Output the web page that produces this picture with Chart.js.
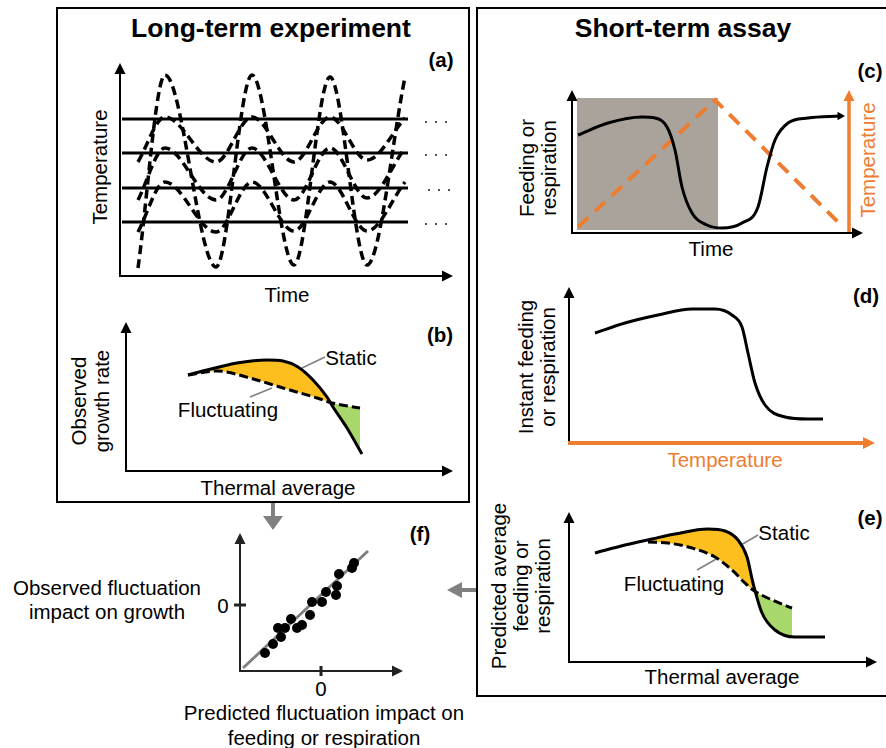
<!DOCTYPE html>
<html>
<head>
<meta charset="utf-8">
<script src="https://cdn.jsdelivr.net/npm/chart.js@4.4.1/dist/chart.umd.min.js"></script>
<style>
  body { margin: 0; background: #fff; }
  #fig { position: relative; width: 886px; height: 748px; overflow: hidden; font-family: "Liberation Sans", Arial, sans-serif; color: #000; }
  #fig canvas { position: absolute; }
  .lbl { position: absolute; transform: translate(-50%, -50%); white-space: nowrap; text-align: center; font-size: 20.5px; line-height: 22px; }
  .rot { transform: translate(-50%, -50%) rotate(-90deg); }
  .title { font-weight: bold; font-size: 26.5px; line-height: 28px; }
  .tag { font-weight: bold; }
  .orange { color: #ed7d31; }
</style>
</head>
<body>
<div id="fig">
  <svg width="886" height="748" style="position:absolute;left:0;top:0">
    <rect x="57" y="8" width="412" height="494" fill="none" stroke="#000" stroke-width="2"/>
    <rect x="477" y="8" width="420" height="688" fill="none" stroke="#000" stroke-width="2"/>
    <!-- grey connectors -->
    <rect x="271" y="503" width="4" height="14" fill="#808080"/>
    <polygon points="263,516 283,516 273,530" fill="#808080"/>
    <rect x="461" y="588" width="15" height="4" fill="#808080"/>
    <polygon points="462,582 462,598 447,590" fill="#808080"/>
  </svg>

  <div class="lbl title" style="left:271px;top:28px">Long-term experiment</div>
  <div class="lbl title" style="left:683px;top:28px">Short-term assay</div>

  <div class="lbl tag" style="left:441px;top:60px">(a)</div>
  <div class="lbl tag" style="left:440px;top:335px">(b)</div>
  <div class="lbl tag" style="left:870px;top:71px">(c)</div>
  <div class="lbl tag" style="left:866px;top:296px">(d)</div>
  <div class="lbl tag" style="left:870px;top:518px">(e)</div>
  <div class="lbl tag" style="left:420px;top:534px">(f)</div>

  <div class="lbl rot" style="left:100px;top:167px">Temperature</div>
  <div class="lbl" style="left:287px;top:295px">Time</div>

  <div class="lbl rot" style="left:90px;top:401px;line-height:23px">Observed<br>growth rate</div>
  <div class="lbl" style="left:351px;top:358px">Static</div>
  <div class="lbl" style="left:228px;top:410px">Fluctuating</div>
  <div class="lbl" style="left:278px;top:488px">Thermal average</div>

  <div class="lbl rot" style="left:538px;top:168px">Feeding or<br>respiration</div>
  <div class="lbl rot orange" style="left:868px;top:160px">Temperature</div>
  <div class="lbl" style="left:711px;top:249px">Time</div>

  <div class="lbl rot" style="left:537px;top:367px">Instant feeding<br>or respiration</div>
  <div class="lbl orange" style="left:725px;top:460px">Temperature</div>

  <div class="lbl rot" style="left:521px;top:586px">Predicted average<br>feeding or<br>respiration</div>
  <div class="lbl" style="left:784px;top:533px">Static</div>
  <div class="lbl" style="left:674px;top:584px">Fluctuating</div>
  <div class="lbl" style="left:722px;top:677px">Thermal average</div>

  <div class="lbl" style="left:107px;top:600px;line-height:24px">Observed fluctuation<br>impact on growth</div>
  <div class="lbl" style="left:223px;top:606px">0</div>
  <div class="lbl" style="left:321px;top:689px">0</div>
  <div class="lbl" style="left:324px;top:725px;line-height:25px">Predicted fluctuation impact on<br>feeding or respiration</div>
</div>

<script>
// (a) long-term regimes: constant levels and fluctuating sine-like regimes
const waveTimes = [18, 45, 96, 132, 174, 210, 247, 285];
const waveWide  = [8, 201, 9, 201, 11, 199, 11, 199];
const waveHigh  = [114, 159, 114, 159, 114, 159, 116, 158];
const waveMid   = [76, 128, 76, 128, 76, 128, 78, 128];
const waveLow   = [44, 94, 44, 94, 45, 94, 45, 94];
const staticLevels = [157, 123, 88, 54];
const staticSpan = [2, 288];
const moreDots = [[306, 154], [316, 154], [326, 154], [306, 121], [316, 121], [326, 121],
                  [309, 86], [319, 86], [329, 86], [306, 52], [316, 52], [326, 52]];

// (b) observed growth vs thermal average
const bStatic = [[62, 96], [81, 101], [111, 108], [141, 111], [157, 110], [172, 104], [187, 91], [201, 74], [207, 64], [221, 43], [236, 17]];
const bFluct = [[62, 96], [91, 100], [124, 93], [157, 83], [191, 73], [206, 68], [234, 63]];
const bStaticLeader = [[176, 103], [199, 114]];
const bFluctLeader = [[124, 74], [146, 83]];

// (c) ramp assay over time
const cRate = [[6, 98], [36, 110], [70, 116], [83, 115], [95, 106], [103, 83], [110, 46], [120, 20], [135, 8], [150, 5], [170, 10], [186, 26], [195, 66], [203, 93], [216, 110], [236, 115], [268, 117]];
const cTemp = [[6, 6], [143, 133], [271, 6]];
const cHeatBand = [[5, 135], [146, 135]];
const cHeatBandBase = 3;
const cTempAxis = 277;

// (d) instant rate vs temperature
const dRate = [[26, 110], [56, 120], [89, 128], [123, 134], [146, 134], [163, 128], [173, 116], [179, 90], [186, 60], [196, 38], [216, 26], [239, 24], [254, 24]];

// (e) predicted average rate vs thermal average
const eStatic = [[26, 109], [56, 117], [83, 123], [106, 128], [139, 133], [156, 131], [169, 122], [178, 105], [184, 79], [193, 49], [206, 32], [226, 25], [256, 25]];
const eFluct = [[79, 120], [99, 119], [123, 114], [146, 105], [163, 92], [176, 79], [184, 72], [203, 62], [223, 54]];
const eStaticLeader = [[172, 117], [189, 127]];
const eFluctLeader = [[128, 92], [149, 104]];

// (f) observed vs predicted fluctuation impact
const fPredicted = [25, 33, 41, 38, 45, 51, 57, 62, 70, 72, 82, 86, 96, 97, 99, 112, 114];
const fObserved  = [18, 27, 34, 43, 43, 52, 43, 46, 56, 69, 69, 79, 76, 85, 97, 103, 108];
const fFit = [[3, 3], [128, 120]];
const fZeroX = 81, fZeroY = 66;

const ORANGE = '#ed7d31', FILL_ORANGE = '#fdbf1d', FILL_GREEN = '#a8d86c', GREY = '#808080';

const pts = arr => arr.map(([x, y]) => ({ x, y }));
const zip = (xs, ys) => xs.map((x, i) => ({ x, y: ys[i] }));

function curve(data, extra) {
    return Object.assign({ data: data, borderColor: '#000', borderWidth: 3, fill: false,
        cubicInterpolationMode: 'monotone', clip: false }, extra);
}
function straight(data, extra) {
    return Object.assign({ data: data, borderColor: '#000', borderWidth: 3, fill: false, tension: 0, clip: false }, extra);
}

// axes with arrow heads, optional extra vertical axis and tick marks
const axisArrows = {
    id: 'axisArrows',
    afterDraw(chart, args, o) {
        const { ctx, chartArea: a, scales } = chart;
        const seg = (x1, y1, x2, y2, color, w) => {
            ctx.strokeStyle = color; ctx.lineWidth = w;
            ctx.beginPath(); ctx.moveTo(x1, y1); ctx.lineTo(x2, y2); ctx.stroke();
        };
        const tri = (p, color) => {
            ctx.fillStyle = color;
            ctx.beginPath(); ctx.moveTo(p[0][0], p[0][1]); ctx.lineTo(p[1][0], p[1][1]); ctx.lineTo(p[2][0], p[2][1]);
            ctx.closePath(); ctx.fill();
        };
        const yc = o.yColor || '#000', xc = o.xColor || '#000';
        const yw = o.yWidth || 2, xw = o.xWidth || 2;
        const hl = 11, hw = 5.5;
        const xhl = o.xHead || hl, xhw = o.xHeadW || hw;
        ctx.save();
        seg(a.left, a.bottom, a.left, a.top + hl - 1, yc, yw);
        tri([[a.left, a.top], [a.left - hw, a.top + hl], [a.left + hw, a.top + hl]], yc);
        if (o.vertical) {
            const x = scales.x.getPixelForValue(o.vertical.value);
            seg(x, a.bottom, x, a.top + hl - 1, o.vertical.color, o.vertical.width);
            tri([[x, a.top], [x - hw, a.top + hl], [x + hw, a.top + hl]], o.vertical.color);
        }
        seg(a.left - yw / 2, a.bottom, a.right - xhl + 1, a.bottom, xc, xw);
        tri([[a.right, a.bottom], [a.right - xhl, a.bottom - xhw], [a.right - xhl, a.bottom + xhw]], xc);
        (o.xTicks || []).forEach(v => {
            const x = scales.x.getPixelForValue(v);
            seg(x, a.bottom - 5, x, a.bottom + 5, xc, 3);
        });
        (o.yTicks || []).forEach(v => {
            const y = scales.y.getPixelForValue(v);
            seg(a.left - 6, y, a.left + 6, y, yc, 3);
        });
        ctx.restore();
    }
};

const PAD = 14;
function panel(origin, xLen, yLen, datasets, axes) {
    const c = document.createElement('canvas');
    c.width = xLen + 2 * PAD;
    c.height = yLen + 2 * PAD;
    c.style.left = (origin[0] - PAD) + 'px';
    c.style.top = (origin[1] - yLen - PAD) + 'px';
    document.getElementById('fig').appendChild(c);
    return new Chart(c, {
        type: 'line',
        data: { datasets: datasets },
        options: {
            responsive: false, animation: false, events: [],
            layout: { padding: PAD },
            plugins: { legend: { display: false }, tooltip: { enabled: false },
                       filler: { drawTime: 'beforeDatasetsDraw' }, axisArrows: axes || {} },
            scales: {
                x: { type: 'linear', min: 0, max: xLen, display: false },
                y: { type: 'linear', min: 0, max: yLen, display: false }
            },
            elements: { point: { radius: 0 } }
        },
        plugins: [axisArrows]
    });
}

// (a)
const dashA = { borderDash: [9, 5], borderWidth: 3.5 };
panel([120, 276], 333, 213, [
    ...staticLevels.map(lv => straight(zip(staticSpan, [lv, lv]))),
    curve(zip(waveTimes, waveWide), dashA),
    curve(zip(waveTimes, waveHigh), dashA),
    curve(zip(waveTimes, waveMid), dashA),
    curve(zip(waveTimes, waveLow), dashA),
    { data: pts(moreDots), showLine: false, pointStyle: 'rect', pointRadius: 1.3,
      pointBackgroundColor: '#444', pointBorderWidth: 0, clip: false }
]);

// (b)
panel([126, 471], 327, 149, [
    curve(pts(bStatic), { fill: { target: '+1', above: FILL_ORANGE, below: FILL_GREEN } }),
    curve(pts(bFluct), { borderDash: [9, 4] }),
    straight(pts(bStaticLeader), { borderColor: GREY, borderWidth: 1.5 }),
    straight(pts(bFluctLeader), { borderColor: GREY, borderWidth: 1.5 })
]);

// (c)
panel([572, 233], 291, 143, [
    curve(pts(cRate), {
        pointRadius: cRate.map((_, i) => i === cRate.length - 1 ? 5 : 0),
        pointStyle: 'triangle', pointRotation: 90, pointBackgroundColor: '#000', pointBorderWidth: 0
    }),
    straight(pts(cTemp), { borderColor: ORANGE, borderWidth: 4, borderDash: [14, 9] }),
    straight(pts(cHeatBand), { borderColor: 'rgba(0,0,0,0)', borderWidth: 0,
        fill: { value: cHeatBandBase }, backgroundColor: '#a9a39c' })
], { vertical: { value: cTempAxis, color: ORANGE, width: 3.5 } });

// (d)
panel([569, 443], 306, 156, [
    curve(pts(dRate))
], { xColor: ORANGE, xWidth: 4, xHead: 12, xHeadW: 6 });

// (e)
panel([569, 662], 308, 150, [
    curve(pts(eStatic), { fill: { target: '+1', above: FILL_ORANGE, below: FILL_GREEN } }),
    curve(pts(eFluct), { borderDash: [9, 4] }),
    straight(pts(eStaticLeader), { borderColor: GREY, borderWidth: 1.5 }),
    straight(pts(eFluctLeader), { borderColor: GREY, borderWidth: 1.5 })
]);

// (f)
panel([240, 671], 163, 138, [
    { data: zip(fPredicted, fObserved), showLine: false, pointStyle: 'circle', pointRadius: 5,
      pointBackgroundColor: '#000', pointBorderWidth: 0, clip: false },
    straight(pts(fFit), { borderColor: GREY, borderWidth: 3 })
], { xColor: '#222', yColor: '#222', xTicks: [fZeroX], yTicks: [fZeroY] });
</script>
</body>
</html>
